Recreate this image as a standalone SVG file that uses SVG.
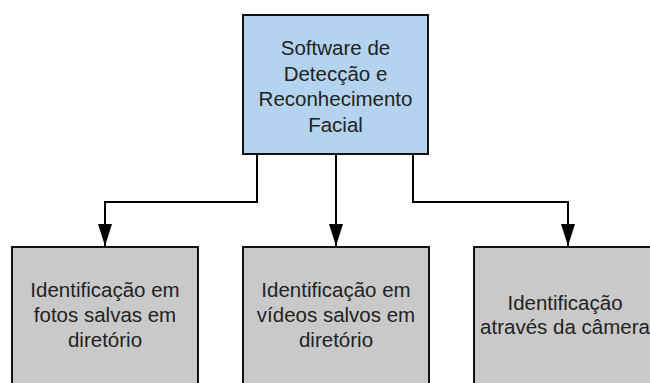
<svg xmlns="http://www.w3.org/2000/svg" width="650" height="383" viewBox="0 0 650 383">
<style>
.box{stroke:#111;stroke-width:2}
.top{fill:#b4d3ee}
.leaf{fill:#c9c9c9}
text{font-family:"Liberation Sans",Arial,sans-serif;font-size:20.5px;fill:#222;text-anchor:middle}
.edge{fill:none;stroke:#000;stroke-width:2}
</style>
<defs>
<marker id="ah" markerUnits="userSpaceOnUse" markerWidth="22" markerHeight="14" refX="22" refY="7" orient="auto" viewBox="0 0 22 14">
<path d="M0,0 L22,7 L0,14 Z" fill="#000"/>
</marker>
</defs>
<rect width="650" height="383" fill="#fff"/>
<g id="connectors">
<path class="edge" d="M257,154 V202 H105 V246" marker-end="url(#ah)"/>
<path class="edge" d="M336,154 V246" marker-end="url(#ah)"/>
<path class="edge" d="M413,154 V202 H568 V246" marker-end="url(#ah)"/>
</g>
<g id="root">
<rect class="box top" x="243" y="15" width="185" height="139"/>
<text x="335.5" y="55">Software de</text>
<text x="335.5" y="80.5">Detecção e</text>
<text x="335.5" y="106">Reconhecimento</text>
<text x="335.5" y="131.5">Facial</text>
</g>
<g id="fotos">
<rect class="box leaf" x="12" y="247" width="186" height="150"/>
<text x="105" y="297">Identificação em</text>
<text x="105" y="322">fotos salvas em</text>
<text x="105" y="347">diretório</text>
</g>
<g id="videos">
<rect class="box leaf" x="243" y="247" width="186" height="150"/>
<text x="336" y="297">Identificação em</text>
<text x="336" y="322">vídeos salvos em</text>
<text x="336" y="347">diretório</text>
</g>
<g id="camera">
<rect class="box leaf" x="474" y="247" width="190" height="150"/>
<text x="565" y="310">Identificação</text>
<text x="565" y="334">através da câmera</text>
</g>
</svg>
